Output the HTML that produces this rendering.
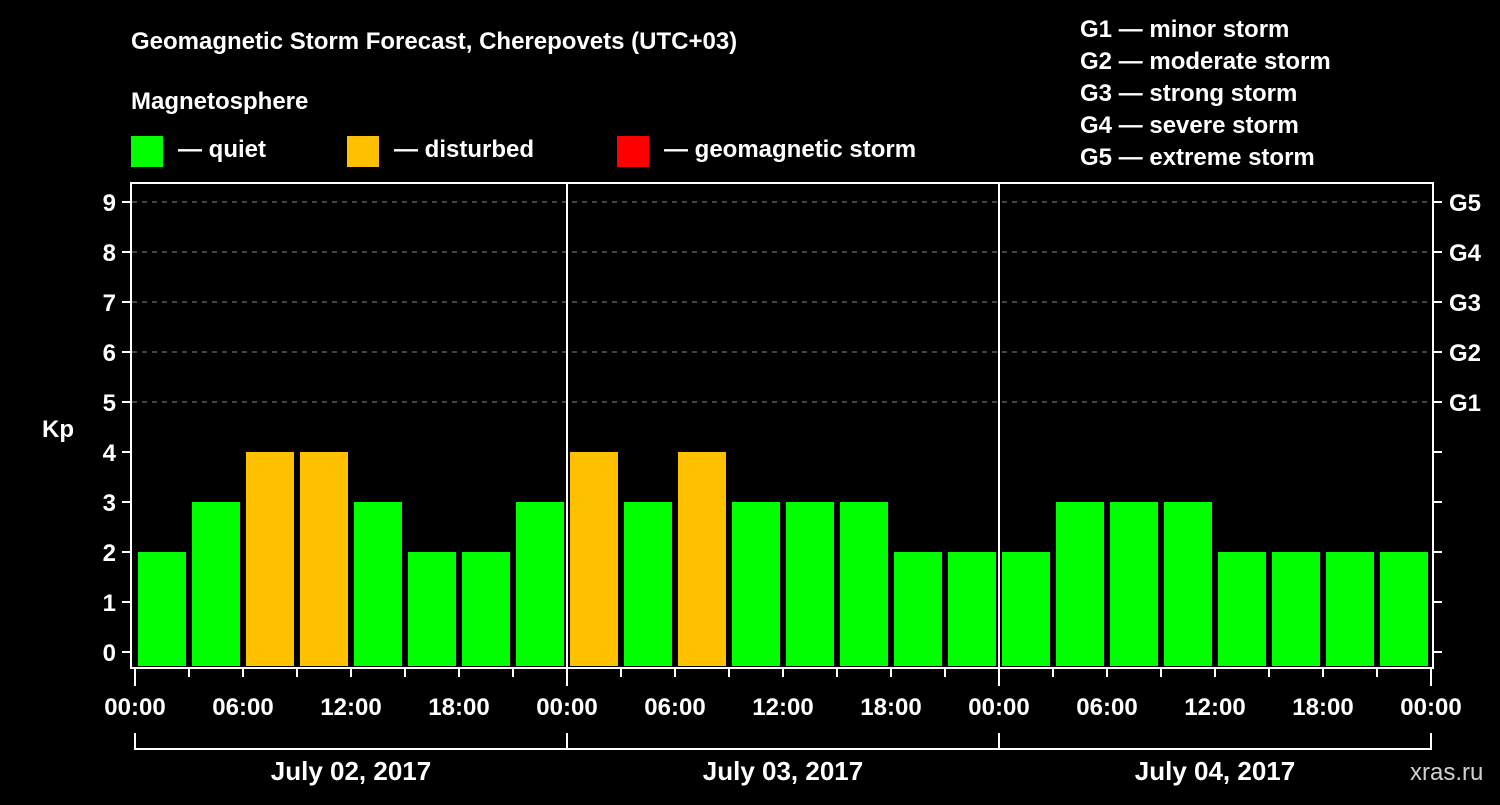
<!DOCTYPE html>
<html><head><meta charset="utf-8"><style>
body{margin:0;background:#000;width:1500px;height:800px;overflow:hidden}
svg text{font-family:"Liberation Sans",sans-serif;font-weight:bold;fill:#fff}
</style></head><body>
<svg id="c" width="1500" height="800" xmlns="http://www.w3.org/2000/svg">
<text x="131" y="49" font-size="24">Geomagnetic Storm Forecast, Cherepovets (UTC+03)</text>
<text x="131" y="109" font-size="24">Magnetosphere</text>
<g><rect x="131" y="136" width="32" height="31" fill="#00ff00"/><text x="178" y="157" font-size="24">— quiet</text></g>
<g><rect x="347" y="136" width="32" height="31" fill="#ffc000"/><text x="394" y="157" font-size="24">— disturbed</text></g>
<g><rect x="617" y="136" width="32" height="31" fill="#ff0000"/><text x="664" y="157" font-size="24">— geomagnetic storm</text></g>
<g font-size="24">
<text x="1080" y="37">G1 — minor storm</text><text x="1080" y="69">G2 — moderate storm</text><text x="1080" y="101">G3 — strong storm</text><text x="1080" y="133">G4 — severe storm</text><text x="1080" y="165">G5 — extreme storm</text></g>
<text x="42" y="437" font-size="24">Kp</text>
<text x="1410" y="780" font-size="24" fill="#ccc" style="fill:#d0d0d0;font-weight:normal">xras.ru</text>
<g id="grid"></g><g id="bars"></g><g id="axes"></g>
</svg>
<script>
const kpValues=[2,3,4,4,3,2,2,3, 4,3,4,3,3,3,2,2, 2,3,3,3,2,2,2,2];
const yTicks=[0,1,2,3,4,5,6,7,8,9];
const gLabels=["G1","G2","G3","G4","G5"];
const hourLabels=["00:00","06:00","12:00","18:00"];
const dayLabels=["July 02, 2017","July 03, 2017","July 04, 2017"];
const NS="http://www.w3.org/2000/svg";
const X0=135,SLOT=54,Y0=652,UNIT=50,TOP=183,BOT=668,RIGHT=1433;
const xs=i=>X0+SLOT*i, ys=v=>Y0-UNIT*v;
function mk(t,a,p){const e=document.createElementNS(NS,t);for(const k in a)e.setAttribute(k,a[k]);p.appendChild(e);return e;}
const grid=document.getElementById('grid'),bars=document.getElementById('bars'),axes=document.getElementById('axes');
yTicks.forEach(v=>{
  if(v>=5){const l=mk('line',{x1:132,x2:RIGHT,y1:ys(v),y2:ys(v),stroke:'#888','stroke-dasharray':'5,5','stroke-width':1},grid);
  
  }
  mk('line',{x1:122,x2:131,y1:ys(v),y2:ys(v),stroke:'#fff','stroke-width':2},axes);
  mk('line',{x1:RIGHT,x2:1442,y1:ys(v),y2:ys(v),stroke:'#fff','stroke-width':2},axes);
  const t=mk('text',{x:116,y:ys(v)+9,'font-size':24,'text-anchor':'end'},axes);t.textContent=v;
  
  
  if(v>=5){const g=mk('text',{x:1449,y:ys(v)+9,'font-size':24},axes);g.textContent=gLabels[v-5];
  
  }
});
kpValues.forEach((v,i)=>{
  const col=v>=5?'#ff0000':(v>=4?'#ffc000':'#00ff00');
  const r=mk('rect',{x:xs(i)+3,y:ys(v),width:48,height:666-ys(v),fill:col},bars);
  
  
});
mk('rect',{x:131,y:TOP,width:RIGHT-131,height:BOT-TOP,fill:'none',stroke:'#fff','stroke-width':2},axes);
for(let d=1;d<dayLabels.length;d++){mk('line',{x1:xs(d*8),x2:xs(d*8),y1:TOP,y2:BOT,stroke:'#fff','stroke-width':2},axes);}
for(let i=0;i<=24;i++){
  const major=i%2===0;
  mk('line',{x1:xs(i),x2:xs(i),y1:BOT,y2:i%8===0?686:677,stroke:'#fff','stroke-width':2},axes);
  if(major){const t=mk('text',{x:xs(i),y:715,'font-size':24,'text-anchor':'middle'},axes);t.textContent=hourLabels[(i/2)%4];
  
  }
}
mk('line',{x1:xs(0),x2:xs(24),y1:749,y2:749,stroke:'#fff','stroke-width':2},axes);
for(let d=0;d<=dayLabels.length;d++)mk('line',{x1:xs(d*8),x2:xs(d*8),y1:733,y2:750,stroke:'#fff','stroke-width':2},axes);
dayLabels.forEach((s,d)=>{const t=mk('text',{x:xs(d*8+4),y:780,'font-size':26,'text-anchor':'middle'},axes);t.textContent=s;
  
  });
</script>
</body></html>
